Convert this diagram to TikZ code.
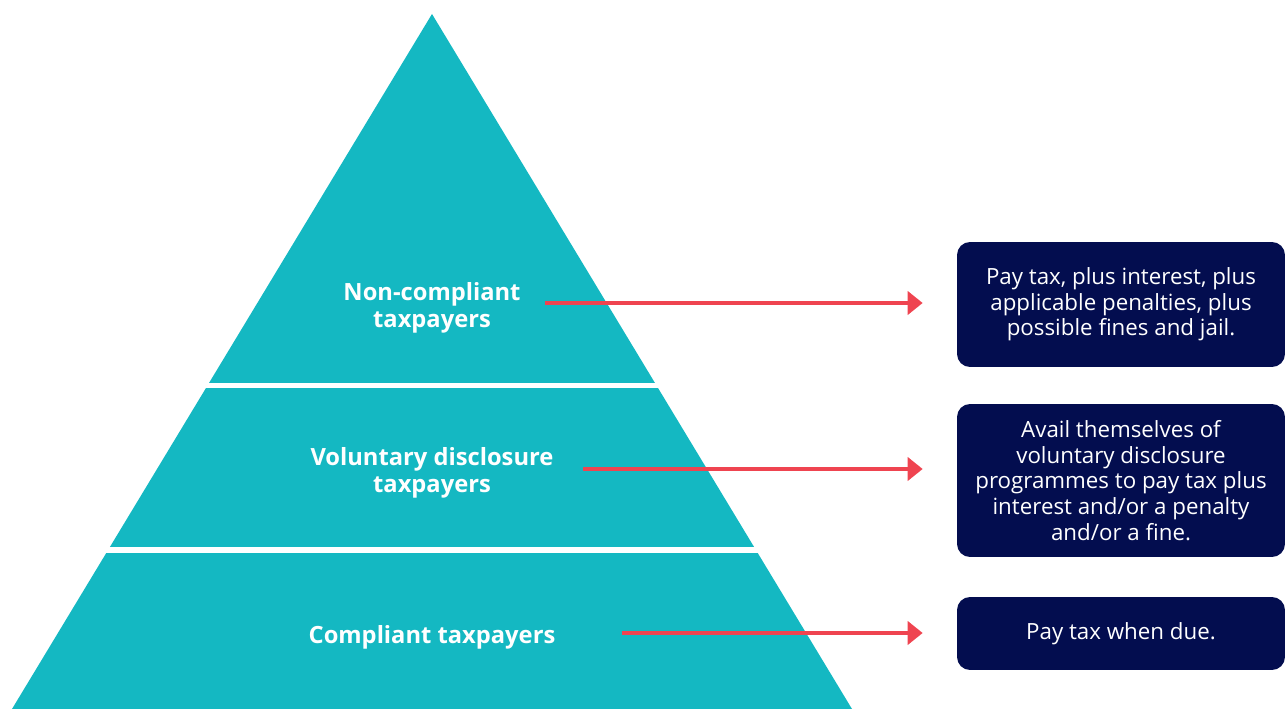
\documentclass[tikz,border=0pt]{standalone}
\usepackage{fontspec}
\setmainfont{Open Sans}
\usetikzlibrary{arrows.meta, positioning}
\definecolor{teal}{RGB}{20,184,194}
\definecolor{navy}{RGB}{3,13,79}
\definecolor{red}{RGB}{239,68,80}

\begin{document}
\begin{tikzpicture}[x=0.02cm, y=-0.02cm,
    level/.style={font=\fontsize{13.5}{15.3}\selectfont\bfseries, text=white, align=center, inner sep=0pt},
    gap/.style={white, line width=0.11cm},
    msg/.style={-{Triangle[length=0.3cm, width=0.46cm]}, line width=0.08cm, red, shorten >=0.68cm},
    box/.style={rectangle, fill=navy, rounded corners=0.26cm, text=white, align=center,
        font=\fontsize{12.7}{14.6}\selectfont, minimum width=6.56cm, inner sep=0pt}]

    \useasboundingbox (0,0) rectangle (1285,709);

    % Pyramid
    \fill[teal] (432,14) -- (852,709) -- (12,709) -- cycle;
    \draw[gap] (150,385.5) -- (720,385.5);
    \draw[gap] (60,550) -- (800,550);

    % Levels
    \node[level] (noncomp) at (432,308) {Non-compliant\\taxpayers};
    \node[level] (vol) at (432,473) {Voluntary disclosure\\taxpayers};
    \node[level] (comp) at (432,637) {Compliant taxpayers};

    % Outcomes
    \node[box, minimum height=2.5cm] (noncomp_box) at (1121,304.5)
        {Pay tax, plus interest, plus\\applicable penalties, plus\\possible fines and jail.};
    \node[box, minimum height=3.06cm] (vol_box) at (1121,480.5)
        {Avail themselves of\\voluntary disclosure\\programmes to pay tax plus\\interest and/or a penalty\\and/or a fine.};
    \node[box, minimum height=1.46cm] (comp_box) at (1121,633.5) {Pay tax when due.};

    \coordinate (noncomp_out) at (545,303);
    \coordinate (vol_out) at (583,469);
    \coordinate (comp_out) at (622,633);

    \draw[msg] (noncomp_out) -- (noncomp_out -| noncomp_box.west);
    \draw[msg] (vol_out) -- (vol_out -| vol_box.west);
    \draw[msg] (comp_out) -- (comp_out -| comp_box.west);

\end{tikzpicture}
\end{document}
